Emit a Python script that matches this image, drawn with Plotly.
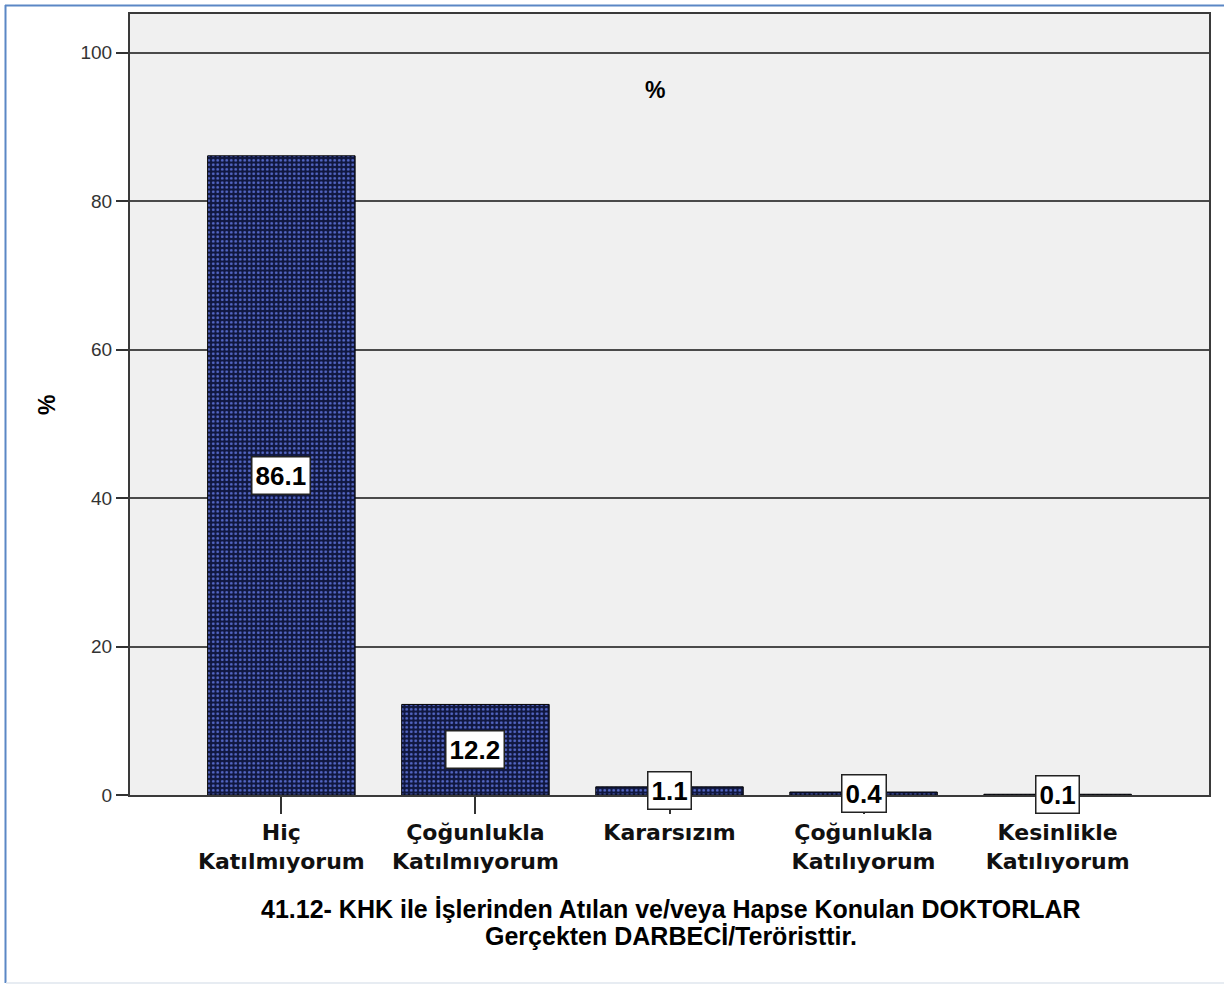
import plotly.graph_objects as go

categories = ["Hiç<br>Katılmıyorum", "Çoğunlukla<br>Katılmıyorum", "Kararsızım",
              "Çoğunlukla<br>Katılıyorum", "Kesinlikle<br>Katılıyorum"]
values = [86.1, 12.2, 1.1, 0.4, 0.1]
value_labels = ["86.1", "12.2", "1.1", "0.4", "0.1"]
y_ticks = [0, 20, 40, 60, 80, 100]
title_lines = ["41.12- KHK ile İşlerinden Atılan ve/veya Hapse Konulan DOKTORLAR",
               "Gerçekten DARBECİ/Teröristtir."]

W, H = 1224, 984
L, R, T, B = 130, 15, 14, 189
PW, PH = W - L - R, H - T - B

def px_x(px):
    return (px - L) / PW

def px_y(py):
    return (H - B - py) / PH

xs = list(range(len(categories)))

fig = go.Figure()
fig.add_trace(go.Bar(
    x=xs, y=values, width=0.76,
    marker=dict(
        color="#121a48",
        line=dict(color="#000000", width=1),
        pattern=dict(shape=".", fgcolor="#5568c8", bgcolor="#10173f",
                     size=4.5, solidity=0.3, fillmode="replace"),
    ),
    hoverinfo="skip",
))

annotations = []
for xi, v, t in zip(xs, values, value_labels):
    annotations.append(dict(
        x=xi, y=v / 2, xref="x", yref="y", text="<b>%s</b>" % t, showarrow=False,
        xanchor="center", yanchor="middle",
        font=dict(family="Liberation Sans, Arial", size=26, color="#000000"),
        bgcolor="#ffffff", bordercolor="#222222", borderwidth=1.5, borderpad=3,
    ))

# top "%" label
annotations.append(dict(x=px_x(655), y=px_y(90), xref="paper", yref="paper",
                        text="<b>%</b>", showarrow=False, xanchor="center", yanchor="middle",
                        font=dict(family="Liberation Sans, Arial", size=23, color="#000")))
# y axis title
annotations.append(dict(x=px_x(47), y=px_y(405), xref="paper", yref="paper",
                        text="<b>%</b>", showarrow=False, textangle=-90,
                        xanchor="center", yanchor="middle",
                        font=dict(family="Liberation Sans, Arial", size=23, color="#000")))
# bottom title lines
for line, py in zip(title_lines, [909, 936]):
    annotations.append(dict(x=px_x(671), y=px_y(py), xref="paper", yref="paper",
                            text="<b>%s</b>" % line, showarrow=False,
                            xanchor="center", yanchor="middle",
                            font=dict(family="Liberation Sans, Arial", size=25, color="#000")))

shapes = [
    # outer blue border: left and top
    dict(type="line", xref="paper", yref="paper", x0=px_x(5.5), x1=px_x(5.5),
         y0=px_y(5), y1=px_y(983), line=dict(color="#5b87c5", width=2)),
    dict(type="line", xref="paper", yref="paper", x0=px_x(5), x1=px_x(1224),
         y0=px_y(5.5), y1=px_y(5.5), line=dict(color="#5b87c5", width=2)),
    dict(type="line", xref="paper", yref="paper", x0=px_x(6), x1=px_x(1224),
         y0=px_y(983), y1=px_y(983), line=dict(color="#dfe6ee", width=1.5)),
]

fig.update_layout(
    width=W, height=H,
    margin=dict(l=L, r=R, t=T, b=B, pad=0),
    paper_bgcolor="#ffffff", plot_bgcolor="#f0f0f0",
    showlegend=False,
    annotations=annotations, shapes=shapes,
    xaxis=dict(
        range=[-0.78, 4.78], tickmode="array", tickvals=xs, ticktext=categories,
        ticks="outside", ticklen=17, tickwidth=2, tickcolor="#333333",
        showline=True, mirror=True, linecolor="#3a3a3a", linewidth=2,
        showgrid=False, zeroline=False,
        tickfont=dict(family="DejaVu Sans", size=22, color="#111111", weight="bold"),
    ),
    yaxis=dict(
        range=[0, 105.2], tickmode="array", tickvals=y_ticks,
        ticks="outside", ticklen=12, tickwidth=2, tickcolor="#333333",
        showline=True, mirror=True, linecolor="#3a3a3a", linewidth=2,
        showgrid=True, gridcolor="#4a4a4a", gridwidth=1.5, zeroline=False,
        tickfont=dict(family="Liberation Sans, Arial", size=19, color="#333333"),
    ),
)

fig.write_html("out.html", config={"displayModeBar": False},
               post_script="document.body.style.margin='0';")
